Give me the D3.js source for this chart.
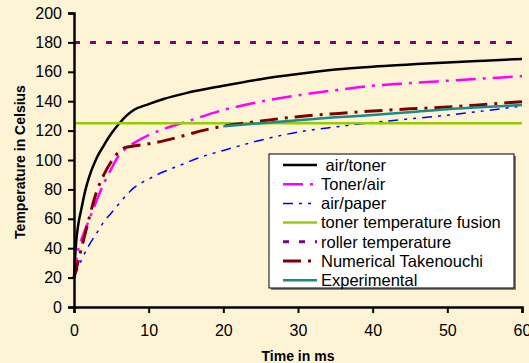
<!DOCTYPE html>
<meta charset="utf-8">

<script src="https://d3js.org/d3.v7.min.js"></script>

<style type="text/css">

    body {
        margin: 0;
        background: #fdf4d6;
    }

    svg text {
        font-family: "Liberation Sans", Arial, sans-serif;
    }

    .axis path, .axis line {
        stroke: #000;
    }

    .axis path {
        stroke-width: 2.5;
    }

    .axis line {
        stroke-width: 2;
    }

    .axis text {
        font-size: 16px;
        fill: #000;
    }

    .title {
        font-size: 14px;
        font-weight: bold;
    }

    .legend text {
        font-size: 16.5px;
        white-space: pre;
    }

</style>

<body>
</body>

<script>

// Data (time in ms, temperature in Celsius)

var airTonerTime = [0, 0.3, 0.6, 1, 1.5, 2, 3, 4, 5, 6, 7, 8, 10, 12, 15, 20, 25, 30, 35, 40, 45, 50, 55, 60];
var airTonerTemp = [20, 45, 57, 67, 79, 88, 101, 110, 118, 124.5, 130, 134, 138, 141.5, 145.5, 150.5, 155, 158.5, 161.5, 163.5, 165, 166.4, 167.6, 168.7];

var tonerAirTime = [0, 0.6, 1, 2, 3, 4, 5, 6, 7, 8, 10, 12, 15, 20, 25, 30, 35, 40, 45, 50, 55, 60];
var tonerAirTemp = [20, 40, 46, 59, 72, 84, 94, 103, 108, 111.5, 117, 121, 126, 134, 139.7, 144, 147.5, 150.5, 152.3, 153.9, 155.5, 157];

var airPaperTime = [0, 1, 2, 3, 4, 5, 6, 7, 8, 10, 12, 14, 17, 20, 25, 30, 35, 40, 45, 50, 55, 60];
var airPaperTemp = [20, 32, 42, 50, 58, 64, 70, 76, 81, 87, 92, 96, 102, 106.5, 113.5, 119, 122.5, 125.5, 128, 130.5, 133.5, 136.7];

var fusionTime = [0, 60];
var fusionTemp = [125, 125];

var rollerTime = [0, 60];
var rollerTemp = [180, 180];

var takenouchiTime = [0, 0.5, 1, 2, 3, 4, 5, 6, 6.8, 8, 10, 12, 15, 18, 20, 25, 30, 35, 40, 45, 50, 55, 60];
var takenouchiTemp = [20, 30, 40, 60, 78, 90, 99, 105.5, 108.4, 109.5, 111, 113, 117, 121, 123, 126.5, 129.5, 131.5, 133.3, 134.8, 136, 137.8, 139.7];

var experimentalTime = [20, 25, 30, 35, 40, 45, 50, 55, 60];
var experimentalTemp = [123, 125, 127, 129, 130.6, 132.5, 134.5, 136, 137.4];

var seriesNames = [" air/toner", "Toner/air", "air/paper", "toner temperature fusion",
    "roller temperature", "Numerical Takenouchi", "Experimental"];

var xTicks = [0, 10, 20, 30, 40, 50, 60];
var yTicks = [0, 20, 40, 60, 80, 100, 120, 140, 160, 180, 200];

// line looks, same order as seriesNames
var colors = ["#000000", "#ff00ff", "#0000ff", "#99cc00", "#800080", "#800000", "#1a8a8a"];
var widths = [2.5, 2.5, 1.5, 2.5, 3, 3, 2.5];
var dashes = [null, "20,7,3,7", "10,6,3,6,3,6", null, "6,10", "18,7,3,7", null];

var series = [
    {t: airTonerTime, v: airTonerTemp},
    {t: tonerAirTime, v: tonerAirTemp},
    {t: airPaperTime, v: airPaperTemp},
    {t: fusionTime, v: fusionTemp},
    {t: rollerTime, v: rollerTemp},
    {t: takenouchiTime, v: takenouchiTemp},
    {t: experimentalTime, v: experimentalTemp}
];

// Margins and svg

var margin = {top: 13, right: 7, bottom: 56, left: 74};

var width = 529 - margin.left - margin.right;

var height = 363 - margin.top - margin.bottom;

var svg = d3.select("body").append("svg")
    .attr("width", 529)
    .attr("height", 363)
    .append("g")
    .attr("transform", "translate(" + margin.left + "," + margin.top + ")");

// scales and axes

var xScale = d3.scaleLinear()
    .domain([0, 60])
    .range([0, width]);

var yScale = d3.scaleLinear()
    .domain([0, 200])
    .range([height, 0]);

var xAxis = d3.axisBottom(xScale)
    .tickValues(xTicks)
    .tickSizeOuter(0)
    .tickSize(6)
    .tickPadding(12);

var yAxis = d3.axisLeft(yScale)
    .tickValues(yTicks)
    .tickSizeOuter(0)
    .tickSize(6)
    .tickPadding(6);

// lines

var line = d3.line()
    .x(function(d) { return xScale(d[0]); })
    .y(function(d) { return yScale(d[1]); })
    .curve(d3.curveMonotoneX);

series.forEach(function(s, i) {
    var pts = s.t.map(function(t, j) { return [t, s.v[j]]; });
    svg.append("path")
        .datum(pts)
        .attr("d", line)
        .attr("fill", "none")
        .attr("stroke", colors[i])
        .attr("stroke-width", widths[i])
        .attr("stroke-dasharray", dashes[i]);
});

svg.append("g")
    .attr("class", "x axis")
    .attr("transform", "translate(0," + height + ")")
    .call(xAxis);

svg.append("g")
    .attr("class", "y axis")
    .call(yAxis);

// axis titles

svg.append("text")
    .attr("class", "title")
    .attr("x", width / 2)
    .attr("y", 361 - margin.top)
    .attr("text-anchor", "middle")
    .text("Time in ms");

svg.append("text")
    .attr("class", "title")
    .attr("transform", "translate(" + (25 - margin.left) + "," + (162 - margin.top) + ") rotate(-90)")
    .attr("text-anchor", "middle")
    .text("Temperature in Celsius");

// legend box with grey shadow

var legend = svg.append("g")
    .attr("class", "legend")
    .attr("transform", "translate(" + (269 - margin.left) + "," + (154 - margin.top) + ")");

legend.append("rect")
    .attr("x", 2)
    .attr("y", 2)
    .attr("width", 245)
    .attr("height", 134)
    .attr("fill", "#808080");

legend.append("rect")
    .attr("width", 245)
    .attr("height", 134)
    .attr("fill", "#fff")
    .attr("stroke", "#000")
    .attr("stroke-width", 1);

var rows = legend.selectAll(".row")
    .data(seriesNames)
    .enter()
    .append("g")
    .attr("class", "row")
    .attr("transform", function(d, i) { return "translate(0," + (11 + i * 19.2) + ")"; });

rows.append("line")
    .attr("x1", 14)
    .attr("x2", 48)
    .attr("stroke", function(d, i) { return colors[i]; })
    .attr("stroke-width", function(d, i) { return widths[i]; })
    .attr("stroke-dasharray", function(d, i) { return dashes[i]; });

rows.append("text")
    .attr("x", 52)
    .attr("dy", "0.35em")
    .text(function(d) { return d; });

</script>
